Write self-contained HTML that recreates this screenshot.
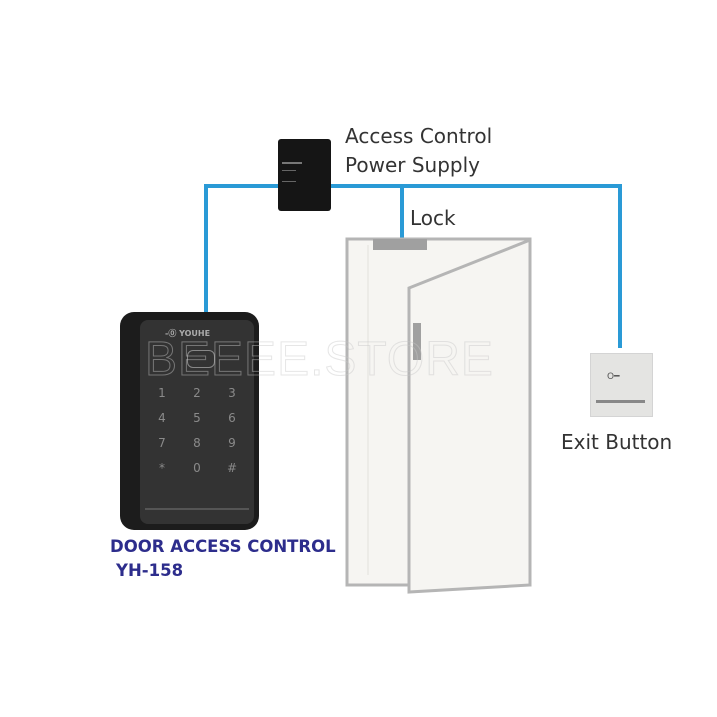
<!DOCTYPE html>
<html><head><style>
body{margin:0;width:717px;height:717px;background:#fff;position:relative;overflow:hidden;font-family:"DejaVu Sans","Liberation Sans",sans-serif}
.a{position:absolute}
.t{position:absolute;color:#333;font-size:20px;white-space:nowrap}
.k{position:absolute;color:#8a8a8a;font-size:12px;width:20px;text-align:center}
</style></head><body>
<!-- wires -->
<div class="a" style="left:204px;top:184px;width:418px;height:4px;background:#2a9ad6"></div>
<div class="a" style="left:204px;top:184px;width:4px;height:132px;background:#2a9ad6"></div>
<div class="a" style="left:618px;top:184px;width:4px;height:164px;background:#2a9ad6"></div>
<div class="a" style="left:400px;top:184px;width:4px;height:56px;background:#2a9ad6"></div>
<!-- power supply -->
<div class="a" style="left:278px;top:139px;width:53px;height:72px;background:#151515;border-radius:3px"></div>
<div class="a" style="left:282px;top:162px;width:20px;height:2px;background:#777"></div>
<div class="a" style="left:282px;top:170px;width:14px;height:10px;border-top:1px solid #666;border-bottom:1px solid #666"></div>
<div class="t" style="left:345px;top:124px">Access Control</div>
<div class="t" style="left:345px;top:153px">Power Supply</div>
<div class="t" style="left:410px;top:206px">Lock</div>
<!-- door -->
<svg class="a" style="left:0;top:0" width="717" height="717">
<rect x="347" y="239" width="183" height="346" fill="#f6f5f2" stroke="#b5b5b5" stroke-width="3"/>
<line x1="368" y1="245" x2="368" y2="575" stroke="#ecebe7" stroke-width="2"/>
<polygon points="409,288 530,240 530,585 409,592" fill="#f6f5f2" stroke="#b5b5b5" stroke-width="3"/>
<rect x="373" y="239" width="54" height="11" fill="#a0a0a0"/>
<rect x="413" y="323" width="8" height="37" fill="#a0a0a0"/>
</svg>
<!-- keypad -->
<div class="a" style="left:120px;top:312px;width:139px;height:218px;background:#1c1c1c;border-radius:14px"></div>
<div class="a" style="left:140px;top:320px;width:114px;height:204px;background:#333;border-radius:8px"></div>
<div class="a" style="left:165px;top:328px;font-size:8px;color:#aaa;font-weight:bold">-⓪ YOUHE</div>
<div class="a" style="left:187px;top:350px;width:26px;height:16px;border:1px solid #888;border-radius:6px"></div>
<div class="k" style="left:152px;top:386px">1</div><div class="k" style="left:187px;top:386px">2</div><div class="k" style="left:222px;top:386px">3</div>
<div class="k" style="left:152px;top:411px">4</div><div class="k" style="left:187px;top:411px">5</div><div class="k" style="left:222px;top:411px">6</div>
<div class="k" style="left:152px;top:436px">7</div><div class="k" style="left:187px;top:436px">8</div><div class="k" style="left:222px;top:436px">9</div>
<div class="k" style="left:152px;top:461px">*</div><div class="k" style="left:187px;top:461px">0</div><div class="k" style="left:222px;top:461px">#</div>
<div class="a" style="left:145px;top:508px;width:104px;height:2px;background:#555"></div>
<div class="a" style="left:110px;top:537px;color:#2d2d8c;font-weight:bold;font-size:16.5px;white-space:nowrap">DOOR ACCESS CONTROL</div>
<div class="a" style="left:116px;top:561px;color:#2d2d8c;font-weight:bold;font-size:16.5px">YH-158</div>
<!-- watermark -->
<div class="a" style="left:145px;top:332px;font-size:48px;letter-spacing:1px;color:transparent;-webkit-text-stroke:1px rgba(200,200,200,0.45);font-family:'Liberation Sans',sans-serif;white-space:nowrap">BEEEE.STORE</div>
<!-- exit button -->
<div class="a" style="left:590px;top:353px;width:61px;height:62px;background:#e4e4e2;border:1px solid #d4d4d4"></div>
<div class="a" style="left:596px;top:400px;width:49px;height:3px;background:#888"></div>
<div class="a" style="left:607px;top:372px;font-size:9px;color:#555">O━</div>
<div class="t" style="left:561px;top:430px">Exit Button</div>
</body></html>
